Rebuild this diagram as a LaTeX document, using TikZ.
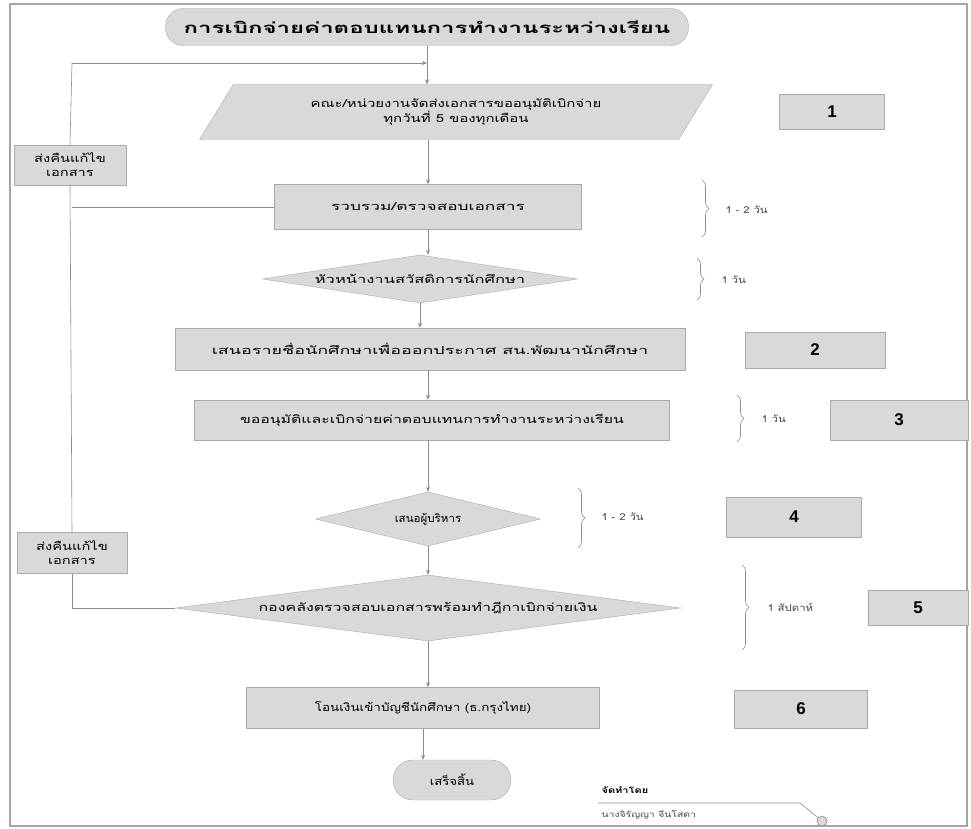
\documentclass[tikz,border=0pt]{standalone}
\usepackage{fontspec}
\newfontfamily\thaifont[Script=Thai]{Loma}
\newfontfamily\numfont{Liberation Sans}
\usetikzlibrary{positioning,arrows.meta,shapes.geometric,decorations.pathreplacing}
\newcommand\widetext[2]{\scalebox{#1}[1]{#2}}

\begin{document}
\begin{tikzpicture}[x=1pt,y=-1pt,
  font=\thaifont\fontsize{11}{14}\selectfont,
  flowbox/.style={rectangle,draw=boxLine,fill=boxFill,inner sep=2pt,align=center},
  termbox/.style={flowbox,rounded corners=18pt},
  iobox/.style={flowbox,trapezium,trapezium left angle=54,trapezium right angle=126,trapezium stretches=true},
  decide/.style={flowbox,diamond,inner sep=0pt},
  numbox/.style={flowbox,font=\numfont\bfseries\fontsize{17}{19}\selectfont},
  timenote/.style={anchor=west,text=noteText,font=\thaifont\fontsize{9.5}{11}\selectfont},
  flow/.style={draw=lineColor,line width=0.6pt,-{Stealth[length=5pt,width=4pt]}},
  link/.style={draw=lineColor,line width=0.6pt},
  span/.style={draw=lineColor,line width=0.6pt,decorate,decoration={brace,amplitude=7pt}}]
\definecolor{boxFill}{RGB}{217,217,217}
\definecolor{boxLine}{RGB}{170,170,170}
\definecolor{lineColor}{RGB}{140,140,140}
\definecolor{noteText}{RGB}{70,70,70}
\definecolor{frameColor}{RGB}{165,165,165}
\path[use as bounding box,fill=white] (0,0) rectangle (971,829);
\draw[frameColor,line width=1.2pt] (10,4) rectangle (967,826);

\node[termbox,minimum width=523,minimum height=37,font=\thaifont\bfseries\fontsize{15}{17}\selectfont] (title) at (427,27) {\widetext{1.6}{การเบิกจ่ายค่าตอบแทนการทำงานระหว่างเรียน}};
\node[iobox,minimum width=513,minimum height=55] (submit) at (456,112) {\widetext{1.36}{คณะ/หน่วยงานจัดส่งเอกสารขออนุมัติเบิกจ่าย}\\\widetext{1.36}{ทุกวันที่ 5 ของทุกเดือน}};
\node[flowbox,minimum width=307,minimum height=45] (collect) at (428,207) {\widetext{1.57}{รวบรวม/ตรวจสอบเอกสาร}};
\node[decide,aspect=7,minimum width=315,minimum height=48] (head) at (420,279) {\widetext{1.5}{หัวหน้างานสวัสดิการนักศึกษา}};
\node[flowbox,minimum width=510,minimum height=42] (propose) at (430,349) {\widetext{1.63}{เสนอรายชื่อนักศึกษาเพื่อออกประกาศ สน.พัฒนานักศึกษา}};
\node[flowbox,minimum width=475,minimum height=40] (approve) at (432,420) {\widetext{1.44}{ขออนุมัติและเบิกจ่ายค่าตอบแทนการทำงานระหว่างเรียน}};
\node[decide,aspect=4,minimum width=225,minimum height=54] (board) at (428,519) {\widetext{1.05}{เสนอผู้บริหาร}};
\node[decide,aspect=8,minimum width=505,minimum height=66] (finance) at (428,608) {\widetext{1.45}{กองคลังตรวจสอบเอกสารพร้อมทำฎีกาเบิกจ่ายเงิน}};
\node[flowbox,minimum width=353,minimum height=41] (transfer) at (423,708) {\widetext{1.22}{โอนเงินเข้าบัญชีนักศึกษา (ธ.กรุงไทย)}};
\node[termbox,rounded corners=20pt,minimum width=118,minimum height=40] (done) at (452,780) {\widetext{1.2}{เสร็จสิ้น}};

\node[flowbox,minimum width=112,minimum height=40] (return1) at (70,165) {\widetext{1.33}{ส่งคืนแก้ไข}\\\widetext{1.33}{เอกสาร}};
\node[flowbox,minimum width=110,minimum height=41] (return2) at (72,553) {\widetext{1.33}{ส่งคืนแก้ไข}\\\widetext{1.33}{เอกสาร}};

\node[numbox,minimum width=105,minimum height=35] (num1) at (832,112) {1};
\node[numbox,minimum width=140,minimum height=36] (num2) at (815,350) {2};
\node[numbox,minimum width=138,minimum height=40] (num3) at (899,420) {3};
\node[numbox,minimum width=135,minimum height=40] (num4) at (794,517) {4};
\node[numbox,minimum width=100,minimum height=35] (num5) at (918,608) {5};
\node[numbox,minimum width=133,minimum height=38] (num6) at (801,709) {6};

\draw[span] (702,180) -- (702,237);
\node[timenote] (time1) at (722,210) {\widetext{1.2}{1 - 2 วัน}};
\draw[span] (697,258) -- (697,300);
\node[timenote] (time2) at (718,280) {\widetext{1.2}{1 วัน}};
\draw[span] (737,395) -- (737,442);
\node[timenote] (time3) at (758,419) {\widetext{1.2}{1 วัน}};
\draw[span] (578,488) -- (578,548);
\node[timenote] (time4) at (598,517) {\widetext{1.2}{1 - 2 วัน}};
\draw[span] (742,565) -- (742,650);
\node[timenote] (time5) at (764,607) {\widetext{1.2}{1 สัปดาห์}};

\coordinate (merge) at (427,63);
\coordinate (backtop) at (72,63);
\coordinate (backbot) at (72,608);

\draw[link] (title.south) -- (merge);
\draw[flow] (merge) -- (merge |- submit.north);
\draw[flow] (collect.north |- submit.south) -- (collect.north);
\draw[flow] (collect.south) -- (head.north -| collect.south);
\draw[flow] (head.south) -- (propose.north -| head.south);
\draw[flow] (propose.south -| board.north) -- (approve.north -| board.north);
\draw[flow] (approve.south -| board.north) -- (board.north);
\draw[flow] (board.south) -- (finance.north);
\draw[flow] (finance.south) -- (transfer.north -| finance.south);
\draw[flow] (transfer.south) -- (transfer.south |- done.north);

\draw[link] (collect.west) -- (collect.west -| backtop);
\draw[link] (finance.west) -- (backbot) -- (return2.south);
\draw[link] (return2.north) -- (return1.south);
\draw[link] (return1.north) -- (backtop);
\draw[flow] (backtop) -- (merge);

\node[anchor=west,font=\thaifont\bfseries\fontsize{8.5}{10}\selectfont] (madeby) at (598,790) {\widetext{1.3}{จัดทำโดย}};
\node[anchor=west,text=noteText,font=\thaifont\fontsize{8}{9}\selectfont] (author) at (598,815) {\widetext{1.3}{นางจิรัญญา จีนโสดา}};
\coordinate (pin) at (822,821);
\draw[link] (598,803) -- (800,803) -- (pin);
\draw[link,fill=boxFill] (pin) circle (5);
\end{tikzpicture}
\end{document}
